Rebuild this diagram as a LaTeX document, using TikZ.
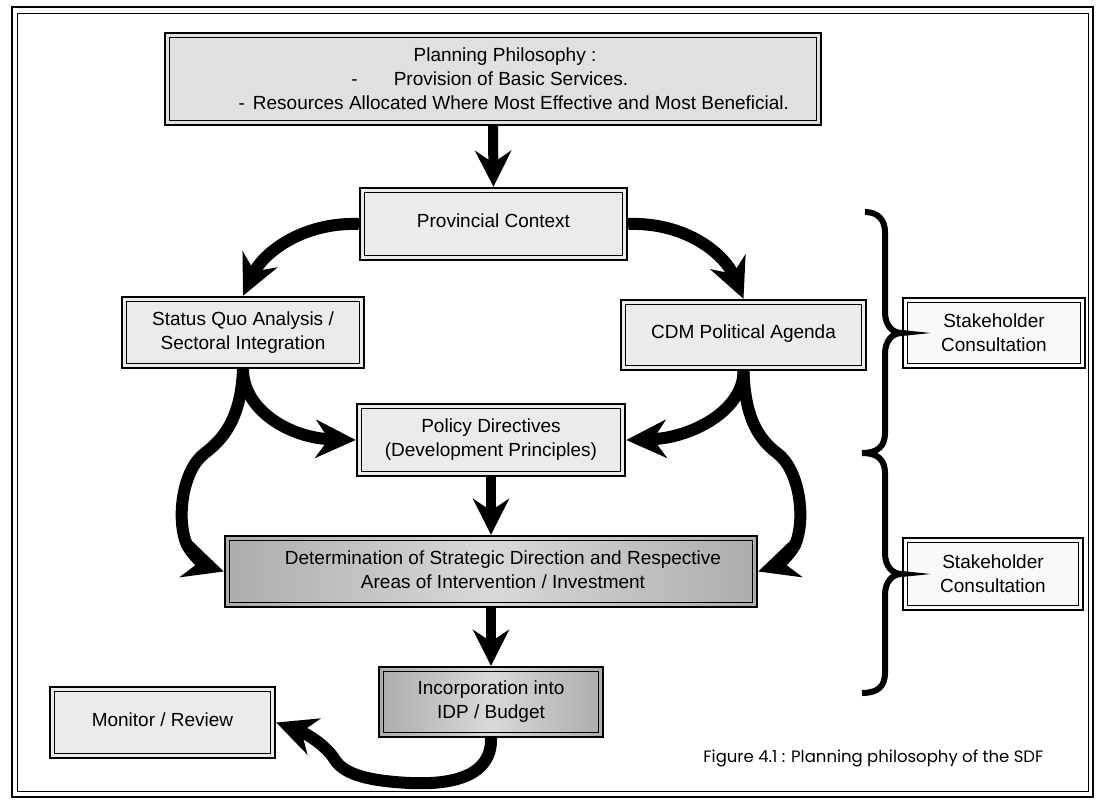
\documentclass[tikz,border=0pt]{standalone}
\usepackage{fontspec}
\setmainfont{Liberation Sans}
\newfontfamily\capfont{Poppins}
\usetikzlibrary{arrows.meta}
\begin{document}
\begin{tikzpicture}[x=1pt,y=-1pt,
  box/.style={draw, line width=2.4pt, inner sep=0pt, align=center,
    font=\fontsize{19}{24}\selectfont,
    path picture={\draw[line width=0.9pt]
      ([shift={(4.5pt,4.5pt)}]path picture bounding box.south west) rectangle
      ([shift={(-4.5pt,-4.5pt)}]path picture bounding box.north east);}},
  lbox/.style={box, fill=gray!16},
  dbox/.style={box, left color=gray!65, right color=gray!65, middle color=gray!30},
  wbox/.style={box, fill=gray!5},
  sarrow/.style={line width=10pt, -{Stealth[length=36pt,width=36pt,inset=12pt]}},
  carrow/.style={line width=12pt, -{Stealth[length=40pt,width=38pt,inset=13pt]}},
  bracepath/.style={line width=6pt}
]
\useasboundingbox (0,0) rectangle (1097,801);
\fill[white] (0,0) rectangle (1097,801);
% frame
\draw[line width=2pt] (12,7) rectangle (1093,797);
\draw[line width=1pt] (17,13) rectangle (1088,791);

% boxes
\node[lbox, fill=gray!24, minimum width=656pt, minimum height=92pt] (top) at (493,79)
  {\hspace*{24pt}Planning Philosophy :\\
   \hspace*{36pt}\llap{-\hspace{36pt}}Provision of Basic Services.\\
   \hspace*{56pt}\llap{-\hspace{8pt}}Resources Allocated Where Most Effective and Most Beneficial.};
\node[lbox, minimum width=267pt, minimum height=72pt] (prov) at (493.5,224) {\raisebox{6pt}{Provincial Context}};
\node[lbox, minimum width=242pt, minimum height=71pt] (sq) at (243,332.5) {Status Quo Analysis /\\ Sectoral Integration};
\node[lbox, minimum width=245pt, minimum height=70pt] (cdm) at (743.5,335) {\raisebox{7pt}{CDM Political Agenda}};
\node[lbox, minimum width=268pt, minimum height=72pt] (pol) at (491,440) {Policy Directives\\ (Development Principles)};
\node[dbox, minimum width=532pt, minimum height=71pt] (det) at (491,571.5)
  {\raisebox{4pt}{\hspace*{24pt}Determination of Strategic Direction and Respective}\\
   \raisebox{4pt}{\hspace*{24pt}Areas of Intervention / Investment}};
\node[dbox, minimum width=224pt, minimum height=70pt] (inc) at (491,702) {Incorporation into\\ IDP / Budget};
\node[lbox, minimum width=225pt, minimum height=71pt] (mon) at (162.5,722.5) {\raisebox{6pt}{Monitor / Review}};
\node[wbox, minimum width=182pt, minimum height=70pt] (sh1) at (994,333) {Stakeholder\\ Consultation};
\node[wbox, minimum width=180pt, minimum height=72pt] (sh2) at (993,574) {Stakeholder\\ Consultation};

% straight arrows
\draw[sarrow] (top.south) -- (prov.north);
\draw[sarrow] (pol.south) -- (det.north);
\draw[sarrow] (det.south) -- (inc.north);

% curved arrows
\draw[carrow] (prov.west) .. controls (300,222) and (262,255) .. (sq.north);
\draw[carrow] (prov.east) .. controls (687,222) and (725,255) .. (cdm.north);
\draw[carrow] (sq.south) .. controls (243,410) and (290,438) .. (pol.west);
\draw[carrow] (cdm.south) .. controls (743.5,410) and (692,438) .. (pol.east);
\draw[carrow] (cdm.south) .. controls (745,420) and (760,440) .. (777,453)
  .. controls (800,470) and (806,520) .. (795,545)
  .. controls (788,558) and (775,566) .. (det.east);
\draw[carrow] (sq.south) .. controls (241,420) and (222,440) .. (205,453)
  .. controls (182,470) and (176,520) .. (187,545)
  .. controls (194,558) and (207,566) .. (det.west);
\draw[carrow] (inc.south) .. controls (492,775) and (455,785) .. (410,783)
  .. controls (370,781) and (345,775) .. (335,760)
  .. controls (328,748) and (310,735) .. (mon.east);

% brace
\draw[bracepath] (865,212) .. controls (878,212) and (885,220) .. (885,232) -- (885,312)
  .. controls (885,325) and (892,333) .. (sh1.west)
  .. controls (892,333) and (885,341) .. (885,354) -- (885,433)
  .. controls (885,446) and (878,453) .. (862,453)
  .. controls (878,453) and (885,460) .. (885,473) -- (885,553)
  .. controls (885,566) and (892,574) .. (sh2.west)
  .. controls (892,574) and (885,582) .. (885,595) -- (885,673)
  .. controls (885,686) and (878,693) .. (862,693);

% caption
\node[anchor=east, font=\capfont\fontsize{16.5}{18}\selectfont] (cap) at (1047,758)
  {Figure 4.1 : Planning philosophy of the SDF};
\end{tikzpicture}
\end{document}
